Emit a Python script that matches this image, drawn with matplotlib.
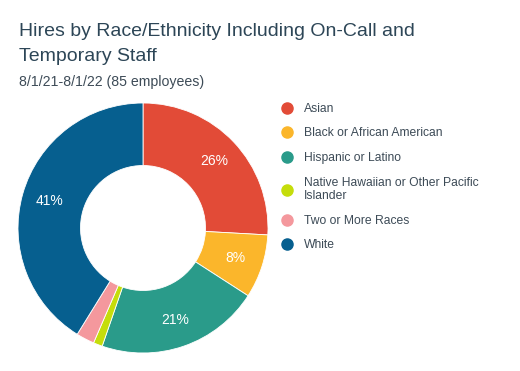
import matplotlib.pyplot as plt
from matplotlib.lines import Line2D

plt.rcParams['font.family'] = ['Liberation Sans', 'DejaVu Sans']

categories = ['Asian', 'Black or African American', 'Hispanic or Latino',
              'Native Hawaiian or Other Pacific\nIslander', 'Two or More Races', 'White']
counts = [22, 7, 18, 1, 2, 35]
colors = ['#E24B37', '#FBB62B', '#2A9B8A', '#C5DD0B', '#F4989D', '#065F8F']

title_lines = ['Hires by Race/Ethnicity Including On-Call and', 'Temporary Staff']
subtitle = '8/1/21-8/1/22 (85 employees)'

fig = plt.figure(figsize=(5.2, 3.71), dpi=100)
ax = fig.add_axes([18 / 520, 1 - 353 / 371, 250 / 520, 250 / 371])


def fmt(p):
    return f'{p:.0f}%' if p >= 5 else ''


wedges, texts, autotexts = ax.pie(
    counts, colors=colors, startangle=90, counterclock=False,
    wedgeprops=dict(width=0.5, edgecolor='white', linewidth=0.6),
    autopct=fmt, pctdistance=0.78,
    textprops=dict(color='white', fontsize=10))
ax.set_xlim(-1, 1)
ax.set_ylim(-1, 1)
ax.set_aspect('equal')

# title split in two lines, placed by baseline
for i, line in enumerate(title_lines):
    fig.text(19 / 520, 1 - (36 + 25 * i) / 371, line,
             fontsize=14, color='#2D4657', va='baseline', ha='left')
fig.text(19 / 520, 1 - 86 / 371, subtitle,
         fontsize=10.2, color='#3D4B57', va='baseline', ha='left')

handles = [Line2D([], [], marker='o', linestyle='', markersize=8,
                  markerfacecolor=c, markeredgecolor=c) for c in colors]
leg = fig.legend(handles, categories, loc='upper left',
                 bbox_to_anchor=(270 / 520, 1 - 98 / 371), frameon=False,
                 fontsize=8.7, labelcolor='#3D4B57', handletextpad=0.4,
                 handlelength=2.0, labelspacing=1.04, borderaxespad=0)

fig.savefig('out.png', dpi=100)
